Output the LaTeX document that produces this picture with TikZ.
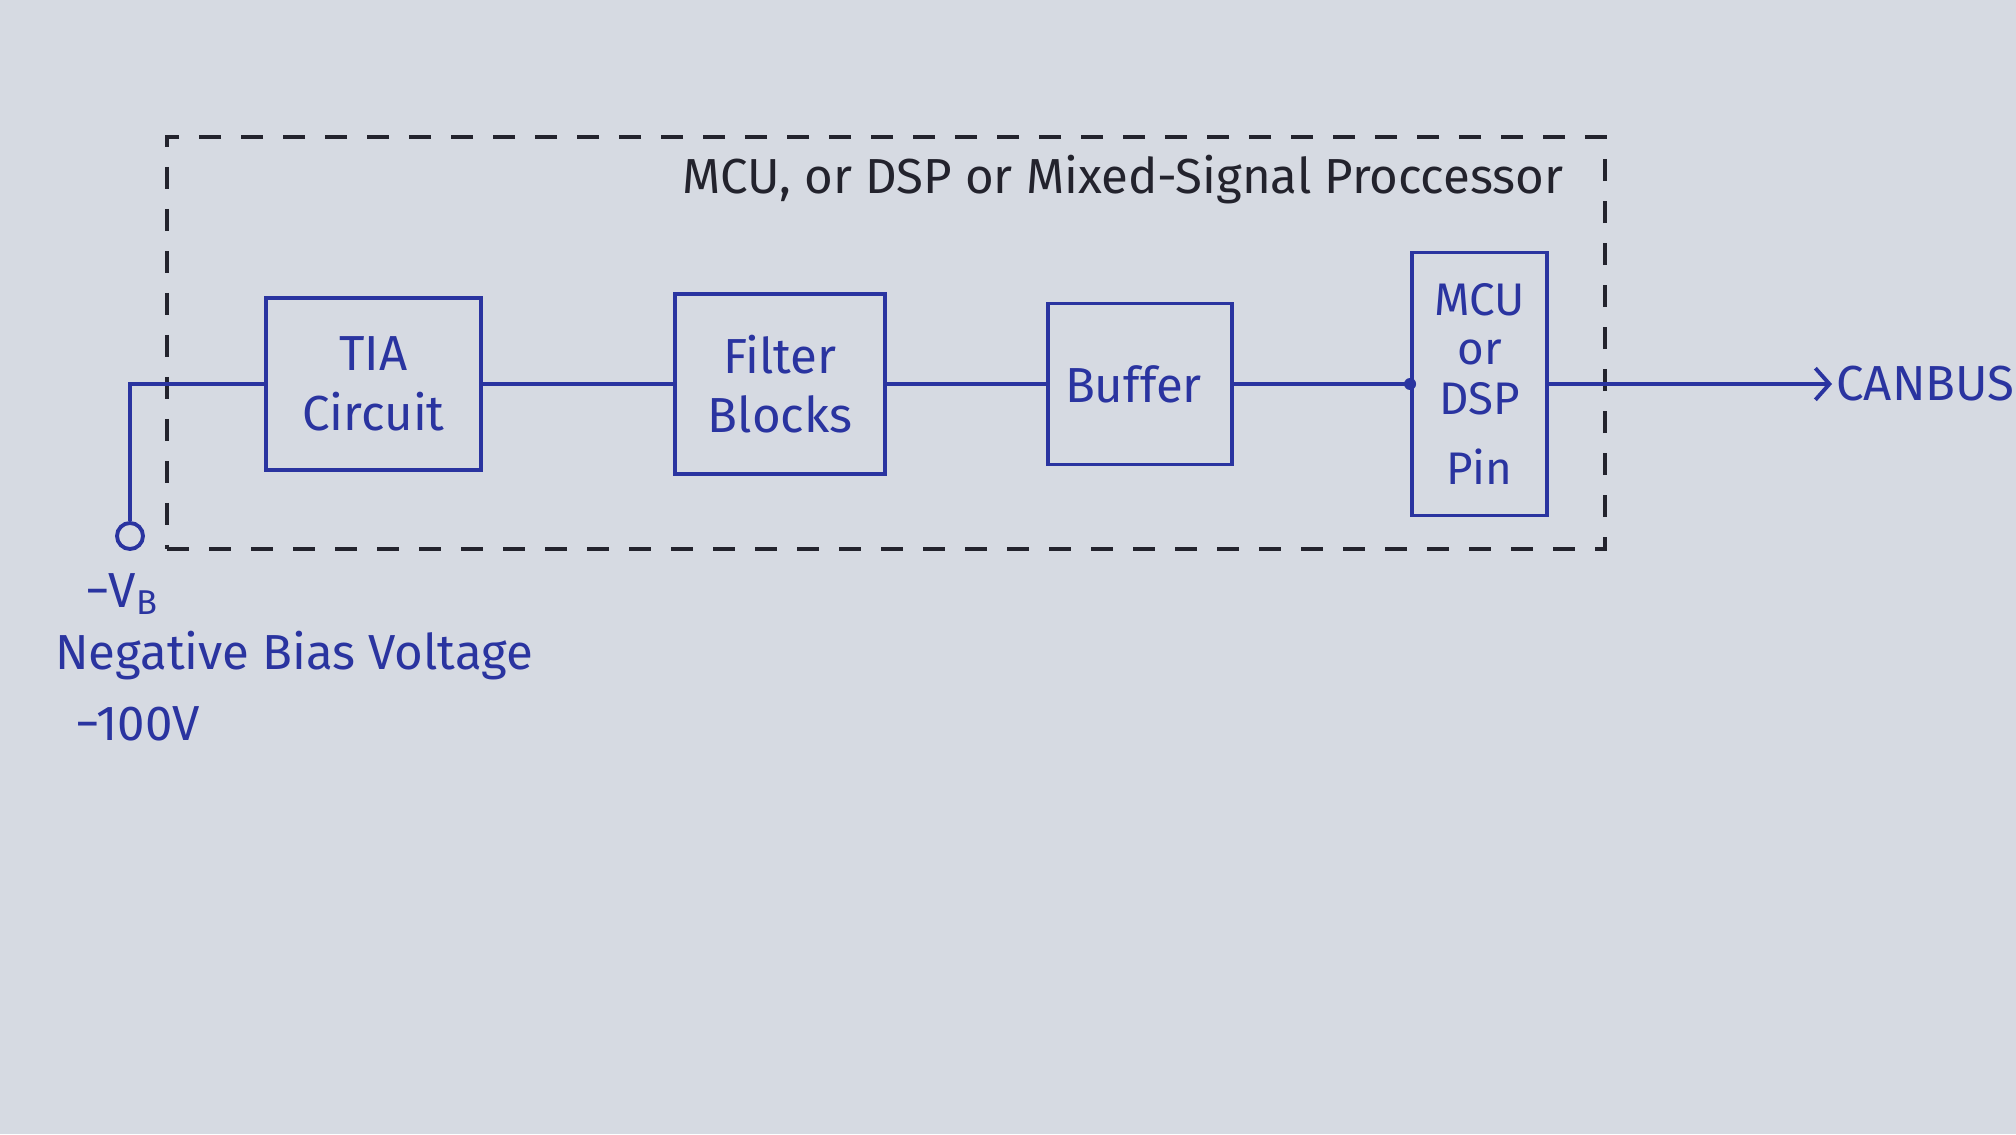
\documentclass[tikz,border=0pt]{standalone}
\usepackage{fontspec}
\setmainfont{Fira Sans}
\usetikzlibrary{arrows.meta,positioning}
\definecolor{inkblue}{RGB}{42,52,160}
\definecolor{pencolor}{RGB}{35,35,45}
\definecolor{papercolor}{RGB}{214,218,226}

\begin{document}
\begin{tikzpicture}[
			blockbox/.style={
				draw=inkblue,
				line width=1.1pt,
				align=center,
				text=inkblue,
				inner sep=2pt,
				font=\fontsize{14}{17}\selectfont
			},
			wire/.style={
				draw=inkblue,
				line width=1.1pt
			},
			inklabel/.style={
				text=inkblue,
				inner sep=1pt,
				font=\fontsize{14}{17}\selectfont
			}
			]
			
			\fill[papercolor] (0,0) rectangle (20.16,11.34);
			\useasboundingbox (0,0) rectangle (20.16,11.34);
			
			\node[draw=pencolor,dash pattern=on 0.22cm off 0.2cm,line width=0.9pt,
			minimum width=14.38cm,minimum height=4.12cm] (chip) at (8.86,7.91) {};
			
			\node[text=pencolor,font=\fontsize{14}{17}\selectfont] (chiptitle) at (11.23,9.54)
			{MCU, or DSP or Mixed-Signal Proccessor};
			
			\node[blockbox,minimum width=2.15cm,minimum height=1.72cm] (tia) at (3.735,7.5) {
				TIA\\Circuit
			};
			
			\node[blockbox,minimum width=2.10cm,minimum height=1.80cm] (filter) at (7.80,7.5) {
				Filter\\Blocks
			};
			
			\node[blockbox,minimum width=1.84cm,minimum height=1.61cm] (buffer) at (11.40,7.5) {
				Buffer
			};
			
			\node[blockbox,minimum width=1.35cm,minimum height=2.63cm,
			font=\fontsize{13}{14}\selectfont] (mcupin) at (14.795,7.5) {
				MCU\\or\\DSP\\[6pt]Pin
			};
			
			\node[draw=inkblue,circle,line width=1.1pt,minimum size=0.26cm,inner sep=0pt]
			(biasterm) at (1.30,5.98) {};
			
			\node[inklabel] (vb) at (1.22,5.40) {−V\textsubscript{B}};
			\node[inklabel,anchor=west] (biasname) at (0.51,4.78) {Negative Bias Voltage};
			\node[inklabel,anchor=west] (biasvalue) at (0.71,4.10) {−100V};
			
			\node[inklabel,anchor=west] (canbus) at (18.32,7.5) {CANBUS};
			
			\draw[wire] (tia.west) -| (biasterm.north);
			\draw[wire] (tia.east) -- (filter.west);
			\draw[wire] (filter.east) -- (buffer.west);
			\draw[wire] (buffer.east) -- (mcupin.west);
			\fill[inkblue] (mcupin.west) circle (0.06);
			\draw[wire,-{Straight Barb[length=4pt,width=9pt]}] (mcupin.east) -- (canbus.west);
			
		\end{tikzpicture}
\end{document}
